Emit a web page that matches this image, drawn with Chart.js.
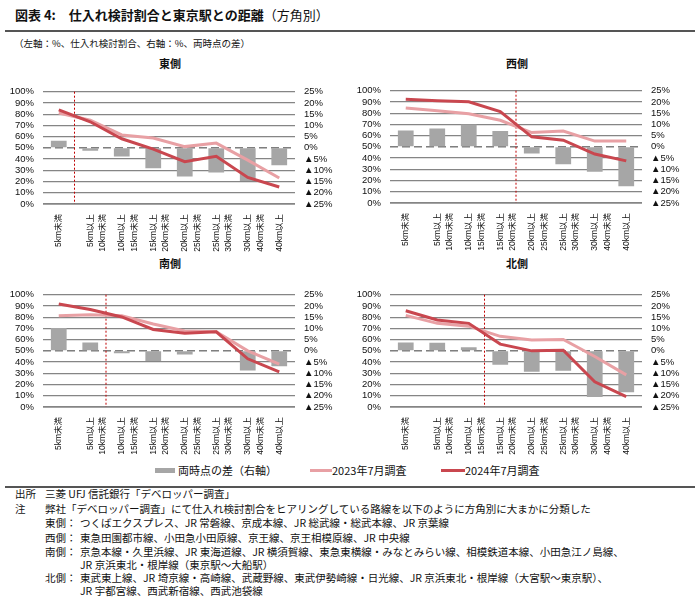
<!DOCTYPE html>
<html>
<head>
<meta charset="utf-8">
<script src="https://cdn.jsdelivr.net/npm/chart.js"></script>
<style>
  body { margin: 0; background: #fff; font-family: "Liberation Sans", "Noto Sans CJK JP", sans-serif; color: #111; }
  #page { position: relative; width: 700px; height: 600px; overflow: hidden; }
  .abs { position: absolute; white-space: nowrap; }
  canvas { position: absolute; }
  .rule { position: absolute; left: 5px; width: 690px; height: 2px; background: #555; }
  .ptitle { position: absolute; width: 60px; text-align: center; font-weight: bold; font-size: 11px; font-family: "Noto Sans CJK JP", sans-serif; }
  .note { position: absolute; font-size: 10.5px; font-family: "Noto Sans CJK JP", sans-serif; white-space: nowrap; line-height: 13px; }
  .legend { position: absolute; top: 462px; font-size: 11px; font-family: "Noto Sans CJK JP", sans-serif; display: flex; align-items: center; }
  .sw { display: inline-block; margin-right: 3px; }
</style>
</head>
<body>
<div id="page">
  <div class="abs" style="left:15px; top:5px; font-size:13px; font-family:'Noto Sans CJK JP',sans-serif;">
    <b>図表 4:　仕入れ検討割合と東京駅との距離</b>（方角別）
  </div>
  <div class="rule" style="top:30px;"></div>
  <div class="abs" style="left:14px; top:36px; font-size:9.5px; font-family:'Noto Sans CJK JP',sans-serif;">（左軸：%、仕入れ検討割合、右軸：%、両時点の差）</div>

  <div class="ptitle" style="left:140px; top:55px;">東側</div>
  <div class="ptitle" style="left:487px; top:55px;">西側</div>
  <div class="ptitle" style="left:140px; top:255px;">南側</div>
  <div class="ptitle" style="left:487px; top:255px;">北側</div>

  <canvas id="east" width="335" height="177" style="left:0px; top:77px;"></canvas>
  <canvas id="west" width="335" height="177" style="left:347px; top:76px;"></canvas>
  <canvas id="south" width="335" height="177" style="left:0px; top:280px;"></canvas>
  <canvas id="north" width="335" height="177" style="left:347px; top:280px;"></canvas>

  <div class="legend" style="left:155px;">
    <span class="sw" style="width:20px; height:5px; background:#a6a6a6;"></span>両時点の差（右軸）
  </div>
  <div class="legend" style="left:310px;">
    <span class="sw" style="width:22px; height:3px; background:#e8a0a4; margin-right:0;"></span>2023年7月調査
  </div>
  <div class="legend" style="left:441px;">
    <span class="sw" style="width:24px; height:3px; background:#c9474f; margin-right:0;"></span>2024年7月調査
  </div>
  <div class="rule" style="top:486px;"></div>

  <div class="note" style="left:15px; top:487px;">出所</div>
  <div class="note" style="left:45px; top:487px;">三菱 UFJ 信託銀行「デベロッパー調査」</div>
  <div class="note" style="left:15px; top:502px;">注</div>
  <div class="note" style="left:45px; top:502px;">弊社「デベロッパー調査」にて仕入れ検討割合をヒアリングしている路線を以下のように方角別に大まかに分類した</div>
  <div class="note" style="left:45px; top:516px;">東側：</div>
  <div class="note" style="left:80px; top:516px;">つくばエクスプレス、JR 常磐線、京成本線、JR 総武線・総武本線、JR 京葉線</div>
  <div class="note" style="left:45px; top:531px;">西側：</div>
  <div class="note" style="left:80px; top:531px;">東急田園都市線、小田急小田原線、京王線、京王相模原線、JR 中央線</div>
  <div class="note" style="left:45px; top:545px;">南側：</div>
  <div class="note" style="left:80px; top:545px;">京急本線・久里浜線、JR 東海道線、JR 横須賀線、東急東横線・みなとみらい線、相模鉄道本線、小田急江ノ島線、<br>JR 京浜東北・根岸線（東京駅～大船駅）</div>
  <div class="note" style="left:45px; top:571px;">北側：</div>
  <div class="note" style="left:80px; top:571px;">東武東上線、JR 埼京線・高崎線、武蔵野線、東武伊勢崎線・日光線、JR 京浜東北・根岸線（大宮駅～東京駅）、<br>JR 宇都宮線、西武新宿線、西武池袋線</div>
</div>

<script>
// distance bands (shared by all four panels)
const categories = [
    '5km未満',
    ['5km以上', '10km未満'],
    ['10km以上', '15km未満'],
    ['15km以上', '20km未満'],
    ['20km以上', '25km未満'],
    ['25km以上', '30km未満'],
    ['30km以上', '40km未満'],
    '40km以上'
];

const leftTicks = [0, 10, 20, 30, 40, 50, 60, 70, 80, 90, 100];
const rightTicks = [-25, -20, -15, -10, -5, 0, 5, 10, 15, 20, 25];

// 東側
const east2023 = [81.0, 74.6, 61.5, 58.7, 51.1, 54.2, 39.1, 23.2];
const east2024 = [83.8, 73.2, 58.1, 48.9, 37.7, 42.5, 23.7, 15.1];
const eastDiff = [3.2, -1.3, -3.8, -9.1, -12.8, -11.0, -14.8, -7.7];
const eastSplit = 0;

// 西側
const west2023 = [84.7, 82.2, 79.5, 73.7, 62.7, 64.1, 55.1, 55.3];
const west2024 = [92.3, 91.0, 90.1, 81.4, 58.9, 55.9, 43.6, 37.5];
const westDiff = [7.3, 8.2, 9.9, 7.1, -3.0, -7.8, -11.1, -17.5];
const westSplit = 3;

// 南側
const south2023 = [81.3, 82.1, 81.3, 73.9, 67.6, 67.0, 50.0, 38.2];
const south2024 = [91.8, 86.8, 80.2, 69.0, 65.7, 67.0, 42.9, 31.3];
const southDiff = [10.2, 3.7, -1.1, -4.5, -1.6, 0, -8.7, -6.9];
const southSplit = 1;

// 北側
const north2023 = [81.6, 74.5, 72.0, 62.9, 59.6, 60.2, 45.0, 28.6];
const north2024 = [85.7, 77.5, 74.5, 56.0, 50.0, 50.5, 22.5, 9.3];
const northDiff = [3.7, 3.6, 1.6, -6.2, -9.3, -8.9, -20.6, -18.4];
const northSplit = 2;

Chart.defaults.font.family = "'Liberation Sans', 'Noto Sans CJK JP', sans-serif";
Chart.defaults.color = '#111';

// dashed 50% line and the red divider between bands
const guidesPlugin = {
    id: 'guides',
    beforeDatasetsDraw(chart, args, opts) {
        const { ctx, chartArea: area, scales } = chart;
        const y50 = scales.y.getPixelForValue(50);
        ctx.save();
        ctx.strokeStyle = '#3c3c3c';
        ctx.lineWidth = 1;
        ctx.setLineDash([8, 4]);
        ctx.beginPath();
        ctx.moveTo(area.left, y50);
        ctx.lineTo(area.right, y50);
        ctx.stroke();

        const xs = (scales.x.getPixelForValue(opts.split) + scales.x.getPixelForValue(opts.split + 1)) / 2;
        ctx.strokeStyle = '#c00000';
        ctx.setLineDash([2, 2]);
        ctx.beginPath();
        ctx.moveTo(xs, area.top);
        ctx.lineTo(xs, area.bottom);
        ctx.stroke();
        ctx.restore();
    }
};

function drawPanel(id, s2023, s2024, diff, split) {
    const ctx = document.getElementById(id).getContext('2d');
    return new Chart(ctx, {
        data: {
            labels: categories,
            datasets: [
                {
                    type: 'line',
                    label: '2024年7月調査',
                    data: s2024,
                    borderColor: '#c9474f',
                    borderWidth: 3,
                    pointRadius: 0,
                    yAxisID: 'y',
                    order: 1
                },
                {
                    type: 'line',
                    label: '2023年7月調査',
                    data: s2023,
                    borderColor: '#e8a0a4',
                    borderWidth: 3,
                    pointRadius: 0,
                    yAxisID: 'y',
                    order: 2
                },
                {
                    type: 'bar',
                    label: '両時点の差（右軸）',
                    data: diff,
                    backgroundColor: '#a6a6a6',
                    barPercentage: 0.5,
                    categoryPercentage: 1,
                    yAxisID: 'y1',
                    order: 3
                }
            ]
        },
        options: {
            responsive: false,
            animation: false,
            layout: { padding: { top: 6, bottom: 0, left: 0, right: 0 } },
            plugins: {
                legend: { display: false },
                tooltip: { enabled: false },
                guides: { split: split }
            },
            scales: {
                x: {
                    grid: { display: false },
                    border: { display: false },
                    ticks: {
                        autoSkip: false,
                        minRotation: 90,
                        maxRotation: 90,
                        padding: 2,
                        font: { size: 8.5, lineHeight: 1.5 }
                    },
                    afterFit: scale => { scale.height = 50; }
                },
                y: {
                    position: 'left',
                    min: 0,
                    max: 100,
                    afterBuildTicks: scale => { scale.ticks = leftTicks.map(v => ({ value: v })); },
                    grid: {
                        color: c => c.tick && c.tick.value === 50 ? 'rgba(0,0,0,0)' : '#858585',
                        lineWidth: c => c.tick && c.tick.value === 0 ? 1.8 : 1.3,
                        drawTicks: false
                    },
                    border: { display: false },
                    ticks: {
                        autoSkip: false,
                        padding: 9,
                        font: { size: 9.5 },
                        callback: v => v + '%'
                    },
                    afterFit: scale => { scale.width = 43; }
                },
                y1: {
                    position: 'right',
                    min: -25,
                    max: 25,
                    afterBuildTicks: scale => { scale.ticks = rightTicks.map(v => ({ value: v })); },
                    grid: { drawOnChartArea: false, drawTicks: false },
                    border: { display: false },
                    ticks: {
                        autoSkip: false,
                        padding: 9,
                        font: { size: 9.5 },
                        callback: v => v < 0 ? '▲' + (-v) + '%' : v + '%'
                    },
                    afterFit: scale => { scale.width = 40; }
                }
            }
        },
        plugins: [guidesPlugin]
    });
}

drawPanel('east', east2023, east2024, eastDiff, eastSplit);
drawPanel('west', west2023, west2024, westDiff, westSplit);
drawPanel('south', south2023, south2024, southDiff, southSplit);
drawPanel('north', north2023, north2024, northDiff, northSplit);
</script>
</body>
</html>
